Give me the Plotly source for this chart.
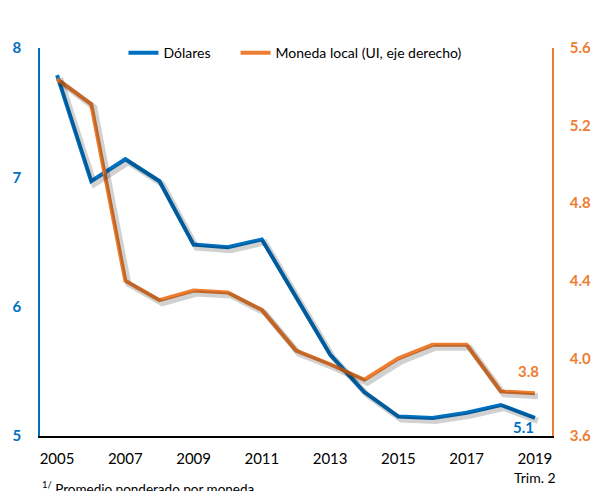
import plotly.graph_objects as go

years = list(range(2005, 2020))
dolares = [7.79, 6.97, 7.14, 6.97, 6.48, 6.46, 6.52, 6.07, 5.63, 5.34, 5.15, 5.14, 5.18, 5.24, 5.14]
moneda_local = [5.44, 5.31, 4.40, 4.30, 4.35, 4.34, 4.25, 4.04, 3.97, 3.89, 4.00, 4.07, 4.07, 3.83, 3.82]
x_ticks = [2005, 2007, 2009, 2011, 2013, 2015, 2017, 2019]
left_ticks = [5, 6, 7, 8]
right_ticks = [3.6, 4.0, 4.4, 4.8, 5.2, 5.6]

BLUE = "#0070C0"
ORANGE = "#ED7D31"
SHADOW = "rgba(0,0,0,0.18)"
FONT = "Lato"

XR = [2004.5, 2019.5]
YL = [5, 8]
YR = [3.6, 5.6]

fig = go.Figure()

# shadows (drawn on shifted invisible axes)
fig.add_trace(go.Scatter(x=years, y=dolares, mode="lines", xaxis="x2", yaxis="y3",
                         line=dict(color=SHADOW, width=6), showlegend=False, hoverinfo="skip"))
fig.add_trace(go.Scatter(x=years, y=moneda_local, mode="lines", xaxis="x2", yaxis="y4",
                         line=dict(color=SHADOW, width=6), showlegend=False, hoverinfo="skip"))

fig.add_trace(go.Scatter(x=years, y=dolares, mode="lines", name="Dólares", legend="legend",
                         line=dict(color=BLUE, width=4), xaxis="x", yaxis="y"))
fig.add_trace(go.Scatter(x=years, y=moneda_local, mode="lines", name="Moneda local (UI, eje derecho)",
                         legend="legend2",
                         line=dict(color=ORANGE, width=4), xaxis="x", yaxis="y2"))

dx = 3 / 34.14
dyl = 3 / 129.3
dyr = 3 / 194.0

leg_common = dict(orientation="h", yanchor="middle", xanchor="left", y=0.987,
                  font=dict(family=FONT, size=14, color="black"), bgcolor="rgba(0,0,0,0)",
                  itemwidth=30)

fig.update_layout(
    width=593, height=491,
    margin=dict(l=40, r=41, t=48, b=55, autoexpand=False),
    paper_bgcolor="white", plot_bgcolor="white",
    font=dict(family=FONT, size=14, color="black"),
    showlegend=True,
    legend=dict(x=0.163, **leg_common),
    legend2=dict(x=0.382, **leg_common),
    xaxis=dict(range=XR, tickvals=x_ticks, ticktext=[str(v) for v in x_ticks], automargin=False,
               showgrid=False, zeroline=False, showline=True, linecolor="black", linewidth=1.5,
               ticks="", tickfont=dict(family=FONT, size=15, color="black"), ticklabelstandoff=8),
    xaxis2=dict(range=[XR[0] - dx, XR[1] - dx], overlaying="x", visible=False),
    yaxis=dict(range=YL, tickvals=left_ticks, showgrid=False, zeroline=False, automargin=False,
               showline=True, linecolor=BLUE, linewidth=1.5, ticks="",
               tickfont=dict(family=FONT, size=15, color=BLUE, weight="bold"), ticklabelstandoff=14),
    yaxis2=dict(range=YR, tickvals=right_ticks, tickformat=".1f", overlaying="y", side="right",
                showgrid=False, zeroline=False, showline=True, linecolor=ORANGE, linewidth=1.5,
                automargin=False,
                ticks="", tickfont=dict(family=FONT, size=15, color=ORANGE, weight="bold"),
                ticklabelstandoff=13),
    yaxis3=dict(range=[YL[0] + dyl, YL[1] + dyl], overlaying="y", visible=False),
    yaxis4=dict(range=[YR[0] + dyr, YR[1] + dyr], overlaying="y", visible=False),
)

annotations = [
    dict(x=years[-1], y=dolares[-1], xref="x", yref="y", text="<b>%.1f</b>" % dolares[-1],
         showarrow=False, font=dict(family=FONT, size=15, color=BLUE), yshift=-9, xshift=1,
         xanchor="right"),
    dict(x=years[-1], y=moneda_local[-1], xref="x", yref="y2", text="<b>%.1f</b>" % moneda_local[-1],
         showarrow=False, font=dict(family=FONT, size=15, color=ORANGE), yshift=22, xshift=6,
         xanchor="right"),
    dict(x=2019, y=-0.108, xref="x", yref="paper", text="Trim. 2", showarrow=False,
         font=dict(family=FONT, size=14, color="black"), xanchor="center", yanchor="middle"),
    dict(x=0, y=-0.133, xref="paper", yref="paper", text="<sup>1/</sup> Promedio ponderado por moneda",
         showarrow=False, font=dict(family=FONT, size=13.5, color="black"), xanchor="left", yanchor="middle"),
    dict(x=0.07, y=1.115, xref="paper", yref="paper",
         text="<b>(Tasa promedio de interés de los otorgados, en  %)</b>",
         showarrow=False, font=dict(family=FONT, size=18, color="black"), xanchor="left", yanchor="bottom"),
]
fig.update_layout(annotations=annotations)

fig.write_html("out.html")
